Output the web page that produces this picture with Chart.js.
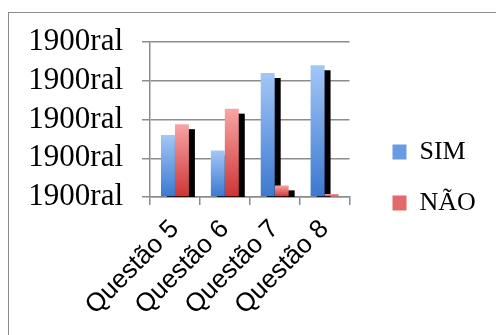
<!DOCTYPE html>
<html>
<head>
<meta charset="utf-8">
<script src="https://cdn.jsdelivr.net/npm/chart.js@4.4.1/dist/chart.umd.min.js"></script>
<style>
  html, body { margin: 0; padding: 0; background: #fff; overflow: hidden; }
  #frame { position: absolute; left: 8px; top: 12px; width: 600px; height: 400px; border: 1px solid #8c8c8c; }
  #wrap { position: absolute; left: 0; top: 0; width: 496px; height: 335px; }
</style>
</head>
<body>
<div id="frame"></div>
<div id="wrap"><canvas id="chart" width="496" height="335"></canvas></div>
<script>
const categories = ['Questão 5', 'Questão 6', 'Questão 7', 'Questão 8'];
const simValues = [40, 30, 80, 85];
const naoValues = [47, 57, 7.5, 2];
const yTickLabels = ['1900ral', '1900ral', '1900ral', '1900ral', '1900ral'];
const legendColors = ['#6a9be2', '#e46a6a'];

// Degradê vertical por barra: claro em cima, escuro em baixo
function barGradient(light, dark, solid) {
    return function(context) {
        const chart = context.chart;
        const y = chart.scales.y;
        if (context.dataIndex === undefined || !y) return solid;
        const v = context.dataset.data[context.dataIndex];
        const top = y.getPixelForValue(v);
        const base = y.getPixelForValue(0);
        if (!isFinite(top) || !isFinite(base) || top === base) return solid;
        const g = chart.ctx.createLinearGradient(0, top, 0, base);
        g.addColorStop(0, light);
        g.addColorStop(1, dark);
        return g;
    };
}

// Sombra preta atrás de todas as barras (desenhada antes das barras)
const barShadow = {
    id: 'barShadow',
    beforeDatasetsDraw(chart) {
        const ctx = chart.ctx;
        const area = chart.chartArea;
        ctx.save();
        ctx.beginPath();
        ctx.rect(area.left, area.top, area.right - area.left, area.bottom - area.top);
        ctx.clip();
        ctx.fillStyle = '#000';
        chart.data.datasets.forEach((ds, i) => {
            chart.getDatasetMeta(i).data.forEach(bar => {
                const p = bar.getProps(['x', 'y', 'base', 'width']);
                ctx.fillRect(p.x - p.width / 2 + 6, p.y + 5, p.width, p.base - p.y);
            });
        });
        ctx.restore();
    }
};

// Desloca a legenda para a posição do original
const legendShift = {
    id: 'legendShift',
    afterLayout(chart) {
        const lg = chart.legend;
        lg.left += 18; lg.right += 18;
        lg.top -= 11; lg.bottom -= 11;
    }
};

new Chart(document.getElementById('chart'), {
    type: 'bar',
    data: {
        labels: categories,
        datasets: [{
            label: 'SIM',
            data: simValues,
            backgroundColor: barGradient('#a3c7f7', '#3b78d0', legendColors[0])
        }, {
            label: 'NÃO',
            data: naoValues,
            backgroundColor: barGradient('#f8a5a5', '#cf3434', legendColors[1])
        }]
    },
    options: {
        responsive: false,
        animation: false,
        categoryPercentage: 0.56,
        barPercentage: 1.0,
        layout: { padding: { top: 42, left: 0, right: 30, bottom: 0 } },
        plugins: {
            tooltip: { enabled: false },
            legend: {
                position: 'right',
                labels: {
                    boxWidth: 14,
                    boxHeight: 15,
                    padding: 25,
                    color: '#000',
                    font: { family: 'Liberation Serif', size: 26 },
                    generateLabels(chart) {
                        const items = Chart.defaults.plugins.legend.labels.generateLabels(chart);
                        items.forEach(it => {
                            it.fillStyle = legendColors[it.datasetIndex];
                            it.strokeStyle = legendColors[it.datasetIndex];
                            it.lineWidth = 0;
                        });
                        return items;
                    }
                }
            }
        },
        scales: {
            x: {
                grid: { drawOnChartArea: false, tickLength: 8, color: '#8c8c8c', lineWidth: 1.5 },
                border: { color: '#8c8c8c', width: 1.5 },
                ticks: {
                    minRotation: 45, maxRotation: 45,
                    color: '#000',
                    padding: 9,
                    font: { family: 'Liberation Sans', size: 26 }
                },
                afterFit(scale) { scale.height = 138; }
            },
            y: {
                min: 0, max: 100,
                grid: { tickLength: 8, color: '#8c8c8c', lineWidth: 1.5 },
                border: { color: '#8c8c8c', width: 1.5 },
                ticks: {
                    stepSize: 25,
                    autoSkip: false,
                    color: '#000',
                    padding: 19,
                    font: { family: 'Liberation Serif', size: 31 },
                    callback: (v, i) => yTickLabels[i]
                },
                afterFit(scale) { scale.width = 150; }
            }
        }
    },
    plugins: [barShadow, legendShift]
});
</script>
</body>
</html>
